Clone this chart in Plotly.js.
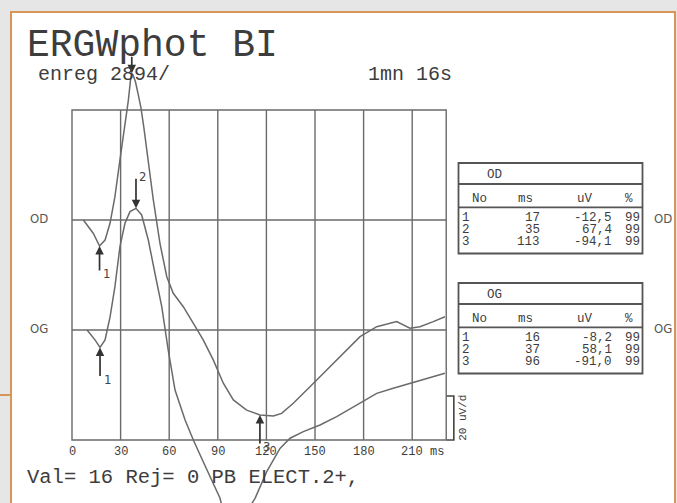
<!DOCTYPE html>
<html><head><meta charset="utf-8">
<script src="https://cdn.plot.ly/plotly-3.0.1.min.js"></script>
<style>html,body{margin:0;padding:0;background:#e6e6e6;overflow:hidden}#chart{width:677px;height:503px}</style>
</head><body><div id="chart"></div>
<script>
// ---- data ----
const odMs = [7,13.1,17,20.4,23.5,26.5,29.6,32.7,34.8,36.1,36.9,37.7,39.2,40.7,42.6,44.4,46.1,48.1,50.2,54.3,58.5,62.5,68.7,74.9,81.0,87.2,93.4,99.6,107.8,116.0,124.3,129.4,136.6,146.9,157.2,167.5,177.8,188.1,200.4,208.6,214.8,223.0,230.2];
const odUv = [0,-6.0,-11.8,-9.1,-1.4,10.6,27.3,42.4,54.5,63.6,66.7,65.9,62.7,57.7,50.9,41.8,31.8,20.5,9.1,-10.6,-25.8,-33.3,-39.4,-47.0,-54.5,-63.6,-74.2,-81.8,-86.4,-88.6,-89.1,-87.9,-83.3,-75.8,-68.2,-60.6,-53.0,-48.5,-46.2,-49.2,-48.5,-46.2,-44.0];
const ogMs = [9.3,14.2,17.3,20.4,23.5,26.5,29.6,32.7,35.8,39.5,43.0,47.1,51.2,55.4,59.4,63.6,69.8,74.9,81.0,91.4,96,103.7,113.0,120.2,128.4,134.6,142.8,153.1,163.4,175.7,188.1,198.3,208.6,219.0,230.2];
const ogUv = [0,-4.5,-7.9,-4.5,6.0,19.7,37.9,48.5,53.8,55.3,52.3,40.9,25.8,10.6,-9.1,-27.3,-40.9,-50.0,-59.9,-76.5,-91,-87.3,-76.5,-64.4,-53.8,-49.2,-46.2,-43.2,-39.4,-34.1,-28.8,-26.5,-24.2,-22.0,-19.7];

const tickVals = [0,30,60,90,120,150,180,210];
const tickLabels = ['0','30','60','90','120','150','180','210'];
const sweepMs = 231;
const uvPerDiv = 50;
const scaleBarUv = 20;

const tableNo = [1,2,3];
const odTabMs = [17,35,113];
const odTabUv = [-12.5,67.4,-94.1];
const odTabPct = [99,99,99];
const ogTabMs = [16,37,96];
const ogTabUv = [-8.2,58.1,-91.0];
const ogTabPct = [99,99,99];

const titleText = 'ERGWphot BI';
const recText = 'enreg 2894/';
const durText = '1mn 16s';
const footText = 'Val= 16 Rej= 0 PB ELECT.2+,';

// ---- geometry ----
const W = 677, H = 503;
const X0 = 72, PXMS = 1.62, Y0 = 220, PXUV = 2.2;
const xRange = [-X0 / PXMS, (W - X0) / PXMS];
const yRange = [-(H - Y0) / PXUV, Y0 / PXUV];
const ogOffset = -uvPerDiv;
const px = v => v / W, py = v => 1 - v / H;

const ink = '#6a6a6a', txt = '#3d3d3d', orange = '#d8955a';
const mono = 'Liberation Mono, DejaVu Sans Mono, monospace';
const sans = 'DejaVu Sans Condensed, Liberation Sans Narrow, Liberation Sans, sans-serif';

const traces = [
  {x: odMs, y: odUv, mode: 'lines', line: {color: ink, width: 1.5}, hoverinfo: 'skip'},
  {x: ogMs, y: ogUv.map(v => v + ogOffset), mode: 'lines', line: {color: ink, width: 1.5}, hoverinfo: 'skip'}
];

const shapes = [];
const ann = [];

// frame
shapes.push({type: 'rect', xref: 'paper', yref: 'paper', x0: px(11), x1: px(675), y0: -0.05, y1: py(12),
  fillcolor: '#ffffff', line: {color: orange, width: 2}, layer: 'below'});
shapes.push({type: 'line', xref: 'paper', yref: 'paper', x0: 0, x1: px(11), y0: py(395), y1: py(395),
  line: {color: orange, width: 2}, layer: 'below'});

// grid
const gl = {color: ink, width: 1.4};
shapes.push({type: 'rect', xref: 'x', yref: 'y', x0: 0, x1: sweepMs, y0: -2 * uvPerDiv, y1: uvPerDiv, line: gl, layer: 'below'});
tickVals.slice(1).forEach(t => shapes.push({type: 'line', xref: 'x', yref: 'y', x0: t, x1: t, y0: -2 * uvPerDiv, y1: uvPerDiv, line: gl, layer: 'below'}));
[0, -uvPerDiv].forEach(v => shapes.push({type: 'line', xref: 'x', yref: 'y', x0: 0, x1: sweepMs, y0: v, y1: v, line: gl, layer: 'below'}));

// tick labels
tickVals.forEach((t, i) => ann.push({x: t, y: -2 * uvPerDiv, xref: 'x', yref: 'y', text: tickLabels[i], showarrow: false,
  yanchor: 'top', yshift: -3, font: {family: mono, size: 12, color: txt}}));
ann.push({x: sweepMs, y: -2 * uvPerDiv, xref: 'x', yref: 'y', text: 'ms', showarrow: false, xanchor: 'right',
  yanchor: 'top', yshift: -3, font: {family: mono, size: 12, color: txt}});

// scale bar
const sbX0 = sweepMs + 0.3, sbX1 = sweepMs + 4.7, sbY0 = -2 * uvPerDiv, sbY1 = -2 * uvPerDiv + scaleBarUv;
shapes.push({type: 'path', xref: 'x', yref: 'y',
  path: `M ${sbX0} ${sbY1} L ${sbX1} ${sbY1} L ${sbX1} ${sbY0} L ${sbX0} ${sbY0}`, line: {color: '#444', width: 1.6}});
ann.push({x: sbX1, y: (sbY0 + sbY1) / 2, xref: 'x', yref: 'y', text: scaleBarUv + ' uV/d', showarrow: false,
  textangle: -90, xanchor: 'left', xshift: 1, font: {family: mono, size: 11, color: txt}});

// side labels
[['OD', 0], ['OG', -uvPerDiv]].forEach(([t, v]) => {
  ann.push({x: px(28), y: v, xref: 'paper', yref: 'y', text: t, showarrow: false, yshift: 2, font: {family: sans, size: 13, color: '#555'}});
  ann.push({x: px(652), y: v, xref: 'paper', yref: 'y', text: t, showarrow: false, xanchor: 'left', yshift: 2, font: {family: sans, size: 13, color: '#555'}});
});

// tables
function drawTable(top, name, msArr, uvArr, pctArr) {
  const L = 458.5, R = 642.5, bottom = top + 90.5;
  const tl = {color: '#555', width: 1.8};
  shapes.push({type: 'rect', xref: 'paper', yref: 'paper', x0: px(L), x1: px(R), y0: py(bottom), y1: py(top), line: tl});
  [21, 44.3].forEach(d => shapes.push({type: 'line', xref: 'paper', yref: 'paper', x0: px(L), x1: px(R), y0: py(top + d), y1: py(top + d), line: tl}));
  const f = {family: mono, size: 12.5, color: txt};
  const put = (x, y, t, xa) => ann.push({x: px(x), y: py(y), xref: 'paper', yref: 'paper', text: t, showarrow: false, xanchor: xa, yanchor: 'middle', font: f});
  put(485, top + 12, name, 'left');
  put(470, top + 36, 'No', 'left');
  put(535, top + 36, 'ms', 'right');
  put(595, top + 36, 'uV', 'right');
  put(635, top + 36, '%', 'right');
  tableNo.forEach((n, i) => {
    const y = top + 55.3 + i * 11.9;
    put(460, y, String(n), 'left');
    put(542, y, String(msArr[i]), 'right');
    put(614, y, uvArr[i].toFixed(1).replace('.', ','), 'right');
    put(641.5, y, String(pctArr[i]), 'right');
  });
}
drawTable(163, 'OD', odTabMs, odTabUv, odTabPct);
drawTable(283, 'OG', ogTabMs, ogTabUv, ogTabPct);

// peak markers: snap to extreme of trace near the tabulated latency
function pick(xs, ys, t, wantMax) {
  let best = null;
  xs.forEach((x, i) => {
    if (Math.abs(x - t) <= 4) {
      if (best === null || (wantMax ? ys[i] > ys[best] : ys[i] < ys[best])) best = i;
    }
  });
  return [xs[best], ys[best]];
}
function marker(xs, ys, off, t, num, tail, label) {
  const up = num !== 2;
  const [mx, my] = pick(xs, ys, t, !up);
  const y = my + off;
  const ay = up ? tail : -tail;
  ann.push({x: mx, y: y, xref: 'x', yref: 'y', ax: 0, ay: ay, text: '', showarrow: true,
    arrowhead: 2, arrowsize: 1, arrowwidth: 1.7, arrowcolor: '#333', standoff: 0});
  if (label) ann.push({x: mx, y: y, xref: 'x', yref: 'y', text: String(num), showarrow: false,
    xshift: 7, yshift: up ? -(tail + 2) : (tail + 1), font: {family: sans, size: 13, color: '#444'}});
}
marker(odMs, odUv, 0, odTabMs[0], 1, 26, true);
marker(odMs, odUv, 0, odTabMs[1], 2, 18, false);
marker(odMs, odUv, 0, odTabMs[2], 3, 30, true);
marker(ogMs, ogUv, ogOffset, ogTabMs[0], 1, 30, true);
marker(ogMs, ogUv, ogOffset, ogTabMs[1], 2, 31, true);
marker(ogMs, ogUv, ogOffset, ogTabMs[2], 3, 30, true);

// texts
ann.push({x: px(25), y: py(45), xref: 'paper', yref: 'paper', text: titleText, showarrow: false, xanchor: 'left', yanchor: 'middle', font: {family: mono, size: 38, color: txt}});
ann.push({x: px(36), y: py(74), xref: 'paper', yref: 'paper', text: recText, showarrow: false, xanchor: 'left', yanchor: 'middle', font: {family: mono, size: 20, color: txt}});
ann.push({x: px(366), y: py(74), xref: 'paper', yref: 'paper', text: durText, showarrow: false, xanchor: 'left', yanchor: 'middle', font: {family: mono, size: 20, color: txt}});
ann.push({x: px(25), y: py(477), xref: 'paper', yref: 'paper', text: footText, showarrow: false, xanchor: 'left', yanchor: 'middle', font: {family: mono, size: 20.5, color: txt}});

const layout = {
  width: W, height: H, autosize: false,
  margin: {l: 0, r: 0, t: 0, b: 0, pad: 0},
  paper_bgcolor: '#e6e6e6', plot_bgcolor: 'rgba(0,0,0,0)',
  showlegend: false,
  xaxis: {range: xRange, visible: false, fixedrange: true},
  yaxis: {range: yRange, visible: false, fixedrange: true},
  shapes: shapes, annotations: ann
};
Plotly.newPlot('chart', traces, layout, {displayModeBar: false, staticPlot: true});
</script></body></html>
